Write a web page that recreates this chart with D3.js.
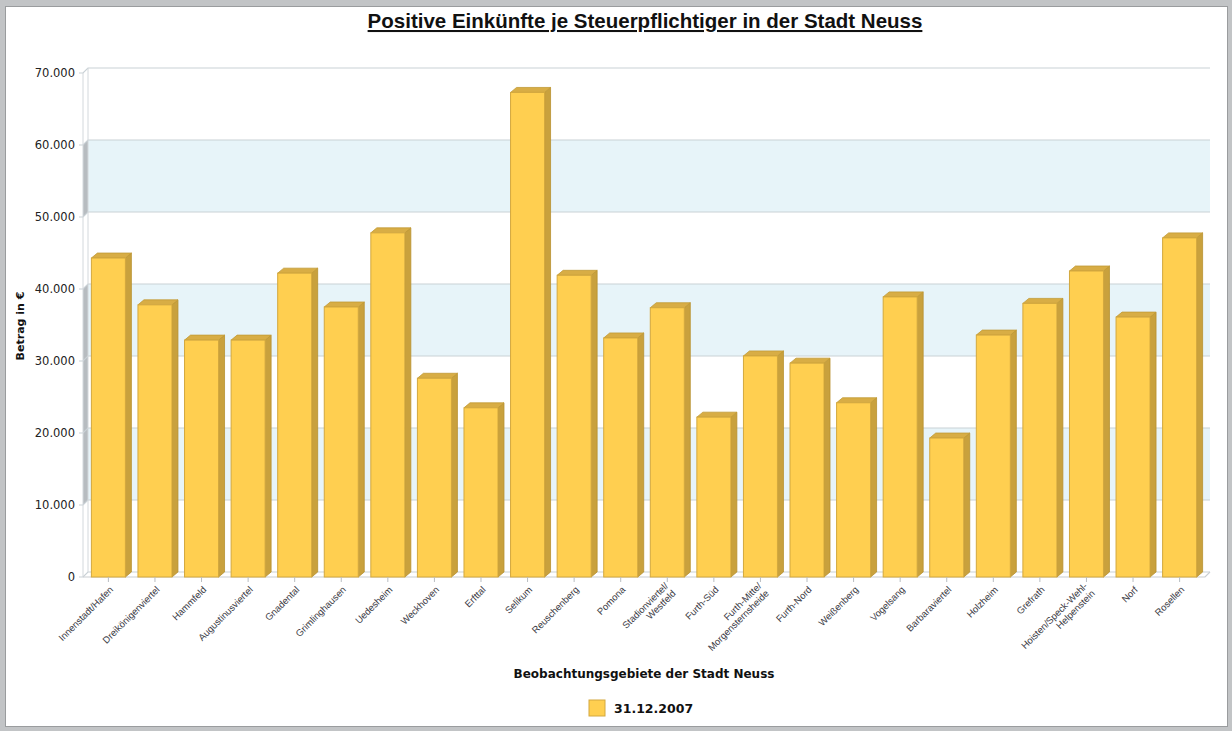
<!DOCTYPE html>
<html>
<head>
<meta charset="utf-8">
<script src="https://cdn.jsdelivr.net/npm/d3@7/dist/d3.min.js"></script>
<style>
  html, body { margin: 0; padding: 0; background: #c2c4c6; }
  svg { display: block; }
</style>
</head>
<body>
<svg id="chart" width="1232" height="731"></svg>
<script>
// Beobachtungsgebiete (x categories); "\n" marks a line break in the axis label
const categories = [
  "Innenstadt/Hafen", "Dreikönigenviertel", "Hammfeld", "Augustinusviertel",
  "Gnadental", "Grimlinghausen", "Uedesheim", "Weckhoven", "Erfttal", "Selikum",
  "Reuschenberg", "Pomona", "Stadionviertel/\nWestfeld", "Furth-Süd",
  "Furth-Mitte/\nMorgensternsheide", "Furth-Nord", "Weißenberg", "Vogelsang",
  "Barbaraviertel", "Holzheim", "Grefrath", "Hoisten/Speck-Wehl-\nHelpenstein",
  "Norf", "Rosellen"
];
// Positive Einkünfte je Steuerpflichtiger in €, Stand 31.12.2007
const values = [
  44300, 37800, 32900, 32900, 42200, 37500, 47800, 27600, 23500, 67300,
  41900, 33200, 37400, 22200, 30700, 29700, 24200, 38900, 19300, 33600,
  38000, 42500, 36100, 47100
];
const yTicks = [0, 10000, 20000, 30000, 40000, 50000, 60000, 70000];
const bandRanges = [[10000, 20000], [30000, 40000], [50000, 60000]];
const wallBandRanges = [[10000, 40000], [50000, 60000]];
const seriesName = "31.12.2007";
const chartTitle = "Positive Einkünfte je Steuerpflichtiger in der Stadt Neuss";
const xTitle = "Beobachtungsgebiete der Stadt Neuss";
const yTitle = "Betrag in €";

const svg = d3.select("#chart");
const de = d3.formatLocale({ decimal: ",", thousands: ".", grouping: [3], currency: ["", " €"] });
const fmt = de.format(",d");

// panel
svg.append("rect").attr("x", 5.5).attr("y", 6.5).attr("width", 1222).attr("height", 720)
  .attr("fill", "#ffffff").attr("stroke", "#9a9c9e");

// 3D geometry: front plane and back wall offset by depth
const depth = { x: 5, y: -5 };
const frontLeft = 83, frontRight = 1205, frontBottom = 577;
const yFront = d3.scaleLinear().domain([0, 70000]).range([frontBottom, frontBottom - 504]);
const yBack = v => yFront(v) + depth.y;
const x = d3.scaleBand().domain(categories).range([frontLeft, frontRight])
  .paddingInner(0.27).paddingOuter(0.18);

const g = svg.append("g");
const bx0 = frontLeft + depth.x, bx1 = frontRight + depth.x;

// back wall bands
g.selectAll("rect.band").data(bandRanges).join("rect").attr("class", "band")
  .attr("x", bx0).attr("width", bx1 - bx0)
  .attr("y", d => yBack(d[1])).attr("height", d => yBack(d[0]) - yBack(d[1]))
  .attr("fill", "#e7f4f9");
// left wall bands
g.selectAll("path.wallband").data(wallBandRanges).join("path").attr("class", "wallband")
  .attr("d", d => `M${frontLeft},${yFront(d[0])}L${bx0},${yBack(d[0])}L${bx0},${yBack(d[1])}L${frontLeft},${yFront(d[1])}Z`)
  .attr("fill", "#b7bcc0");

// gridlines across left wall and back wall
g.selectAll("path.grid").data(yTicks).join("path").attr("class", "grid")
  .attr("d", d => `M${frontLeft - 4},${yFront(d)}L${frontLeft},${yFront(d)}L${bx0},${yBack(d)}L${bx1},${yBack(d)}`)
  .attr("fill", "none").attr("stroke", "#c9d1d6").attr("stroke-width", 1.2);
// wall edges
g.append("path")
  .attr("d", `M${bx0},${yBack(0)}L${bx0},${yBack(70000)}M${frontLeft},${yFront(0)}L${frontLeft},${yFront(70000)}`)
  .attr("stroke", "#d3d8dc").attr("fill", "none");
g.append("path")
  .attr("d", `M${frontLeft},${yFront(0)}L${frontRight},${yFront(0)}L${bx1},${yBack(0)}`)
  .attr("stroke", "#c9ced2").attr("fill", "none").attr("stroke-width", 1.2);

// y tick labels
g.selectAll("text.ytick").data(yTicks).join("text").attr("class", "ytick")
  .attr("x", 75).attr("y", d => yFront(d)).attr("dy", "0.36em")
  .attr("text-anchor", "end").attr("font-family", "DejaVu Sans").attr("font-size", 11.5)
  .attr("fill", "#222").text(d => fmt(d));

// bars
const bd = { x: 6, y: -5 };
const bars = g.selectAll("g.bar").data(categories.map((c, i) => ({ c, v: values[i] }))).join("g").attr("class", "bar");
bars.append("path")
  .attr("d", d => {
    const x1 = x(d.c) + x.bandwidth(), yt = yFront(d.v), yb = yFront(0);
    return `M${x1},${yb}L${x1 + bd.x},${yb + bd.y}L${x1 + bd.x},${yt + bd.y}L${x1},${yt}Z`;
  })
  .attr("fill", "#c9a13d").attr("stroke", "#b8902f").attr("stroke-width", 0.8).attr("stroke-linejoin", "round");
bars.append("path")
  .attr("d", d => {
    const x0 = x(d.c), x1 = x0 + x.bandwidth(), yt = yFront(d.v);
    return `M${x0},${yt}L${x0 + bd.x},${yt + bd.y}L${x1 + bd.x},${yt + bd.y}L${x1},${yt}Z`;
  })
  .attr("fill", "#d8ad45").attr("stroke", "#c29a36").attr("stroke-width", 0.8).attr("stroke-linejoin", "round");
bars.append("rect")
  .attr("x", d => x(d.c)).attr("width", x.bandwidth())
  .attr("y", d => yFront(d.v)).attr("height", d => yFront(0) - yFront(d.v))
  .attr("fill", "#ffcf50").attr("stroke", "#d3a83e").attr("stroke-width", 1);

// x ticks
g.selectAll("line.xtick").data(categories).join("line").attr("class", "xtick")
  .attr("x1", d => x(d) + x.bandwidth() / 2).attr("x2", d => x(d) + x.bandwidth() / 2)
  .attr("y1", frontBottom).attr("y2", frontBottom + 5)
  .attr("stroke", "#b9bec2");

// x category labels, rotated
const xl = g.selectAll("text.xlabel").data(categories).join("text").attr("class", "xlabel")
  .attr("transform", d => `translate(${x(d) + x.bandwidth() / 2 + 3},${frontBottom + 11}) rotate(-45)`)
  .attr("text-anchor", "end").attr("font-family", "Liberation Sans, Arial").attr("font-size", 9.5)
  .attr("fill", "#3a3a44");
xl.each(function (d) {
  const lines = d.split("\n");
  const t = d3.select(this);
  lines.forEach((ln, i) => {
    t.append("tspan").attr("x", 0)
      .attr("y", (i - (lines.length - 1) / 2) * 10.5)
      .attr("dy", "0.35em").text(ln);
  });
});

// titles
svg.append("text").attr("x", 645).attr("y", 28).attr("text-anchor", "middle")
  .attr("font-family", "Liberation Sans, Arial").attr("font-weight", "bold").attr("font-size", 20.5)
  .attr("text-decoration", "underline").attr("fill", "#111").text(chartTitle);
svg.append("text").attr("x", 644).attr("y", 678).attr("text-anchor", "middle")
  .attr("font-family", "DejaVu Sans").attr("font-weight", "bold").attr("font-size", 12)
  .attr("fill", "#111").text(xTitle);
svg.append("text").attr("transform", "translate(24,326) rotate(-90)").attr("text-anchor", "middle")
  .attr("font-family", "DejaVu Sans").attr("font-weight", "bold").attr("font-size", 11)
  .attr("fill", "#111").text(yTitle);

// legend
const lg = svg.append("g").attr("transform", "translate(589,700)");
lg.append("rect").attr("width", 16).attr("height", 16).attr("fill", "#ffcf50").attr("stroke", "#d3a83e");
lg.append("text").attr("x", 25).attr("y", 13).attr("font-family", "DejaVu Sans").attr("font-weight", "bold")
  .attr("font-size", 12.5).attr("fill", "#111").text(seriesName);
</script>
</body>
</html>
